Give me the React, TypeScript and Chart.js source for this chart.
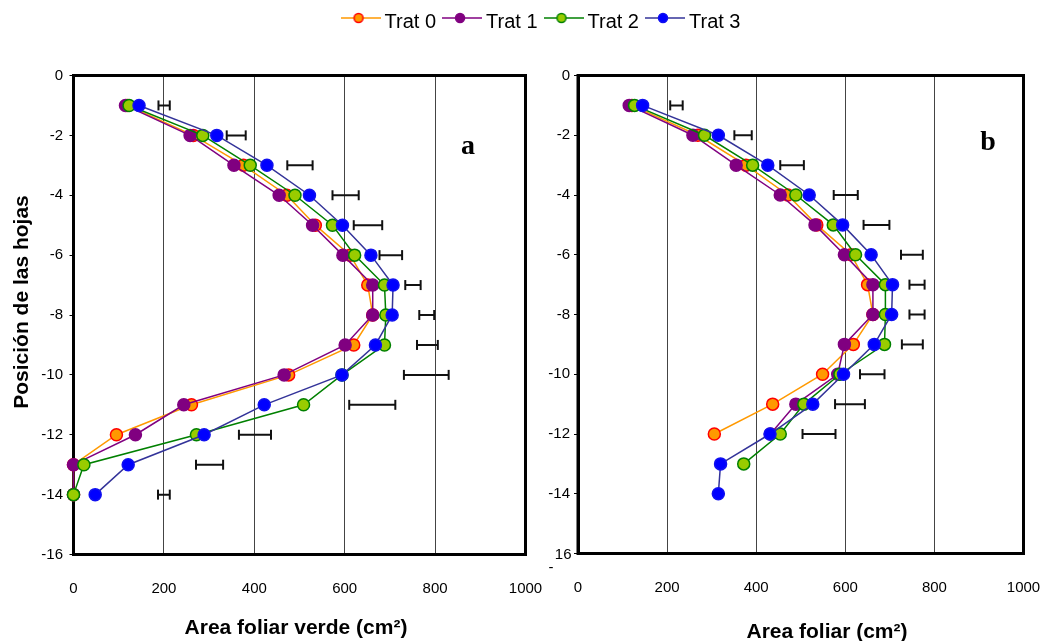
import React, { useEffect, useRef } from 'react';
import { Chart, registerables } from 'chart.js';

Chart.register(...registerables);

const FONT = "'Liberation Sans', Arial, Helvetica, sans-serif";
const SERIF = "'Liberation Serif', 'Times New Roman', serif";

// ---------- data ----------
const seriesNames = ['Trat 0', 'Trat 1', 'Trat 2', 'Trat 3'];
const xTickValues = [0, 200, 400, 600, 800, 1000];
const yTickValues = [0, -2, -4, -6, -8, -10, -12, -14, -16];

const levels = [-1, -2, -3, -4, -5, -6, -7, -8, -9, -10, -11, -12, -13, -14];

// Panel a: Area foliar verde
const trat0A = [119, 265, 376, 472, 535, 612, 651, 662, 620, 476, 261, 95, 0, 0];
const trat1A = [115, 258, 355, 455, 529, 596, 662, 662, 601, 466, 244, 137, 0, 0];
const trat2A = [123, 286, 391, 490, 573, 622, 688, 691, 688, 594, 509, 272, 23, 0];
const trat3A = [145, 317, 428, 522, 595, 658, 707, 705, 668, 594, 422, 289, 121, 48];
const errLoA = [188, 339, 473, 573, 620, 677, 734, 765, 760, 731, 610, 366, 271, 187];
const errHiA = [213, 381, 529, 631, 683, 727, 768, 798, 806, 830, 712, 437, 331, 213];

// Panel b: Area foliar
const trat0B = [121, 269, 377, 471, 536, 613, 650, 662, 618, 549, 437, 306];
const trat1B = [115, 258, 355, 454, 532, 598, 662, 662, 598, 583, 489, 432];
const trat2B = [127, 284, 392, 489, 573, 623, 690, 690, 688, 588, 507, 454, 372];
const trat3B = [145, 315, 426, 519, 594, 658, 706, 704, 665, 596, 527, 431, 320, 315];
const errLoB = [207, 351, 454, 574, 641, 725, 744, 744, 727, 633, 577, 504];
const errHiB = [235, 390, 507, 628, 699, 774, 778, 778, 774, 688, 644, 578];

// ---------- styles ----------
const lineColors = ['#FF9900', '#800080', '#008000', '#333399'];
const fillColors = ['#FF9900', '#800080', '#99CC00', '#0000FF'];
const edgeColors = ['#FF0000', '#800080', '#008000', '#1010F0'];

function seriesDataset(i: number, values: number[]) {
  return {
    label: seriesNames[i],
    data: values.map((v, k) => ({ x: v, y: levels[k] })),
    showLine: true,
    borderColor: lineColors[i],
    borderWidth: 1.5,
    backgroundColor: fillColors[i],
    pointBackgroundColor: fillColors[i],
    pointBorderColor: edgeColors[i],
    pointBorderWidth: 1.5,
    pointRadius: 6,
    tension: 0,
    clip: false as any,
    order: 3 - i,
  };
}

function errorDataset(lo: number[], hi: number[]) {
  const data: any[] = [];
  lo.forEach((l, k) => {
    data.push({ x: l, y: levels[k] });
    data.push({ x: hi[k], y: levels[k] });
    data.push({ x: null, y: null });
  });
  return {
    label: 'err',
    data,
    showLine: true,
    spanGaps: false,
    borderColor: '#111',
    borderWidth: 2,
    pointStyle: 'line',
    rotation: 90,
    pointRadius: 5,
    pointBorderColor: '#111',
    pointBorderWidth: 2,
    clip: false as any,
    order: 10,
  };
}

function panelOptions(cfg: {
  yWidth: number; xHeight: number; padRight: number; tickPad: number; hideLast: boolean;
}) {
  return {
    animation: false as const,
    responsive: false,
    events: [] as any[],
    layout: { padding: { left: 0, right: cfg.padRight, top: 35.5, bottom: 0 } },
    plugins: { legend: { display: false }, tooltip: { enabled: false }, title: { display: false } },
    scales: {
      x: {
        type: 'linear' as const,
        min: 0,
        max: 1000,
        afterBuildTicks: (s: any) => { s.ticks = xTickValues.map((v) => ({ value: v })); },
        ticks: {
          padding: 25,
          color: '#000',
          font: { family: FONT, size: 15 },
          maxRotation: 0,
          autoSkip: false,
          callback: (v: any) => String(v),
        },
        grid: { display: true, color: '#444', lineWidth: 1, drawTicks: false },
        border: { display: true, color: '#000', width: 3 },
        afterFit: (s: any) => { s.height = cfg.xHeight; s.paddingLeft = 0; s.paddingRight = 0; },
      },
      y: {
        type: 'linear' as const,
        min: -16,
        max: 0,
        afterBuildTicks: (s: any) => { s.ticks = yTickValues.map((v) => ({ value: v })); },
        ticks: {
          padding: cfg.tickPad,
          color: '#000',
          font: { family: FONT, size: 15 },
          autoSkip: false,
          callback: (v: any) => (cfg.hideLast && v === -16 ? '' : String(v)),
        },
        grid: { drawOnChartArea: false, drawTicks: true, tickLength: 4, color: '#000', lineWidth: 1 },
        border: { display: true, color: '#000', width: 3 },
        afterFit: (s: any) => { s.width = cfg.yWidth; s.paddingTop = 0; s.paddingBottom = 0; },
      },
    },
  };
}

function decorPlugin(cfg: {
  xTitle: string; xTitleX: number; xTitleY: number;
  yTitle?: string; yTitleX?: number; yTitleY?: number;
  letter: string; letterX: number; letterY: number; splitLabel?: boolean;
}) {
  return {
    id: 'decor',
    beforeDatasetsDraw(chart: any) {
      const { ctx, chartArea: a } = chart;
      ctx.save();
      ctx.strokeStyle = '#000';
      ctx.lineWidth = 3;
      ctx.strokeRect(a.left, a.top, a.right - a.left, a.bottom - a.top);
      ctx.restore();
    },
    afterDraw(chart: any) {
      const { ctx } = chart;
      ctx.save();
      ctx.fillStyle = '#000';
      ctx.textAlign = 'center';
      ctx.textBaseline = 'middle';
      ctx.font = `bold 21px ${FONT}`;
      ctx.fillText(cfg.xTitle, cfg.xTitleX, cfg.xTitleY);
      if (cfg.yTitle) {
        ctx.save();
        ctx.translate(cfg.yTitleX!, cfg.yTitleY!);
        ctx.rotate(-Math.PI / 2);
        ctx.font = `bold 21px ${FONT}`;
        ctx.fillText(cfg.yTitle, 0, 0);
        ctx.restore();
      }
      ctx.font = `bold 28px ${SERIF}`;
      ctx.fillText(cfg.letter, cfg.letterX, cfg.letterY);
      if (cfg.splitLabel) {
        const ys = chart.scales.y;
        const py = ys.getPixelForValue(-16);
        ctx.font = `15px ${FONT}`;
        ctx.textAlign = 'right';
        ctx.fillText('16', chart.chartArea.left - 6.5, py + 1.5);
        ctx.textAlign = 'center';
        ctx.fillText('-', chart.chartArea.left - 27, py + 14);
      }
      ctx.restore();
    },
  };
}

function makeIcon(i: number) {
  const c = document.createElement('canvas');
  c.width = 40;
  c.height = 20;
  const g = c.getContext('2d')!;
  g.strokeStyle = lineColors[i];
  g.lineWidth = 1.5;
  g.beginPath();
  g.moveTo(0, 6);
  g.lineTo(40, 6);
  g.stroke();
  g.beginPath();
  g.arc(18, 6, 4.5, 0, Math.PI * 2);
  g.fillStyle = fillColors[i];
  g.fill();
  g.strokeStyle = edgeColors[i];
  g.lineWidth = 1.5;
  g.stroke();
  return c;
}

export default function App() {
  const legendRef = useRef<HTMLCanvasElement>(null);
  const aRef = useRef<HTMLCanvasElement>(null);
  const bRef = useRef<HTMLCanvasElement>(null);

  useEffect(() => {
    const icons = [0, 1, 2, 3].map(makeIcon);

    const legendChart = new Chart(legendRef.current!, {
      type: 'line',
      data: { labels: [], datasets: seriesNames.map((n) => ({ label: n, data: [] })) },
      options: {
        animation: false,
        responsive: false,
        events: [],
        layout: { padding: { left: 37, right: 0, top: 0, bottom: 0 } },
        scales: { x: { display: false }, y: { display: false } },
        plugins: {
          tooltip: { enabled: false },
          legend: {
            display: true,
            position: 'top',
            align: 'center',
            maxHeight: 60,
            labels: {
              usePointStyle: true,
              pointStyleWidth: 28,
              padding: 12,
              color: '#000',
              font: { family: FONT, size: 20 },
              generateLabels: () =>
                seriesNames.map((n, i) => ({
                  text: n,
                  pointStyle: icons[i] as any,
                  fillStyle: 'rgba(0,0,0,0)',
                  strokeStyle: 'rgba(0,0,0,0)',
                  lineWidth: 0,
                  hidden: false,
                  datasetIndex: i,
                  fontColor: '#000',
                })),
            },
          },
        },
      } as any,
    });

    const chartA = new Chart(aRef.current!, {
      type: 'scatter',
      data: {
        datasets: [
          seriesDataset(0, trat0A),
          seriesDataset(1, trat1A),
          seriesDataset(2, trat2A),
          seriesDataset(3, trat3A),
          errorDataset(errLoA, errHiA),
        ] as any,
      },
      options: panelOptions({ yWidth: 73.5, xHeight: 86.5, padRight: 19.5, tickPad: 6.5, hideLast: false }) as any,
      plugins: [
        decorPlugin({
          xTitle: 'Area foliar verde (cm²)', xTitleX: 296, xTitleY: 588,
          yTitle: 'Posición de las hojas', yTitleX: 22, yTitleY: 262,
          letter: 'a', letterX: 468, letterY: 107,
        }),
      ],
    });

    const chartB = new Chart(bRef.current!, {
      type: 'scatter',
      data: {
        datasets: [
          seriesDataset(0, trat0B),
          seriesDataset(1, trat1B),
          seriesDataset(2, trat2B),
          seriesDataset(3, trat3B),
          errorDataset(errLoB, errHiB),
        ] as any,
      },
      options: panelOptions({ yWidth: 33, xHeight: 87.5, padRight: 26.5, tickPad: 4, hideLast: true }) as any,
      plugins: [
        decorPlugin({
          xTitle: 'Area foliar (cm²)', xTitleX: 282, xTitleY: 592,
          letter: 'b', letterX: 443, letterY: 103, splitLabel: true,
        }),
      ],
    });

    return () => {
      legendChart.destroy();
      chartA.destroy();
      chartB.destroy();
    };
  }, []);

  return (
    <div style={{ position: 'absolute', left: 0, top: 0, width: 1050, height: 641, background: '#fff' }}>
      <canvas ref={aRef} width={545} height={601} style={{ position: 'absolute', left: 0, top: 40 }} />
      <canvas ref={bRef} width={505} height={601} style={{ position: 'absolute', left: 545, top: 40 }} />
      <canvas ref={legendRef} width={1050} height={120} style={{ position: 'absolute', left: 0, top: 0, pointerEvents: 'none' }} />
    </div>
  );
}
